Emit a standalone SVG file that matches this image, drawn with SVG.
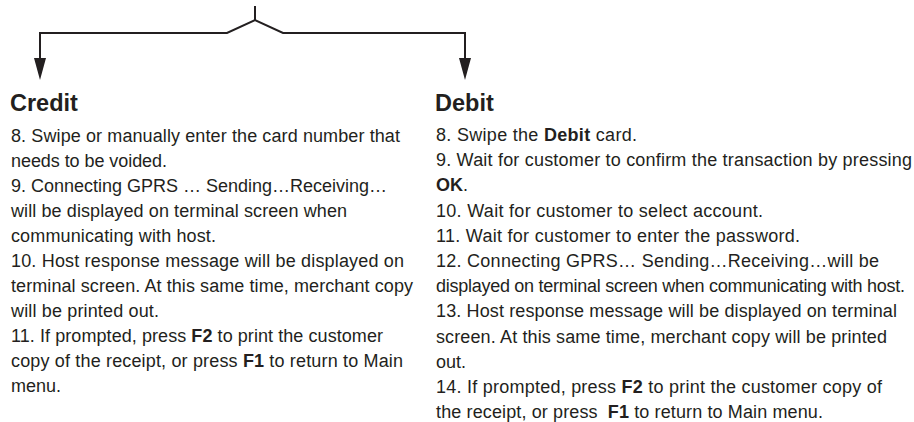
<svg xmlns="http://www.w3.org/2000/svg" width="914" height="422" viewBox="0 0 914 422">
<style>
.t{font-family:"Liberation Sans",Arial,Helvetica,sans-serif;font-size:18px;fill:#231f20}
.h{font-family:"Liberation Sans",Arial,Helvetica,sans-serif;font-size:23.5px;font-weight:bold;fill:#231f20}
.b{font-weight:bold}
.c{fill:none;stroke:#231f20;stroke-width:2}
.a{fill:#231f20}
</style>
<g id="connectors">
<line class="c" x1="255" y1="6" x2="255" y2="21"/>
<polyline class="c" points="40,33 227,33 255,20 283,33 465,33"/>
<line class="c" x1="40" y1="32" x2="40" y2="58"/>
<line class="c" x1="465" y1="32" x2="465" y2="58"/>
<path class="a" d="M34,58 L46,58 L40,80 Z"/>
<path class="a" d="M459,58 L471,58 L465,80 Z"/>
</g>
<g id="credit">
<text class="h" x="10" y="111">Credit</text>
<text class="t" x="11" y="141.5" textLength="389">8. Swipe or manually enter the card number that</text>
<text class="t" x="11" y="166.5" textLength="156">needs to be voided.</text>
<text class="t" x="11" y="191.5" textLength="376">9. Connecting GPRS … Sending…Receiving…</text>
<text class="t" x="11" y="216.5" textLength="336">will be displayed on terminal screen when</text>
<text class="t" x="11" y="241.5" textLength="205">communicating with host.</text>
<text class="t" x="11" y="266.5" textLength="393">10. Host response message will be displayed on</text>
<text class="t" x="11" y="291.5" textLength="402">terminal screen. At this same time, merchant copy</text>
<text class="t" x="11" y="316.5" textLength="148">will be printed out.</text>
<text class="t" x="11" y="341.5" textLength="372">11. If prompted, press <tspan class="b">F2</tspan> to print the customer</text>
<text class="t" x="11" y="366.5" textLength="392">copy of the receipt, or press <tspan class="b">F1</tspan> to return to Main</text>
<text class="t" x="11" y="391.5">menu.</text>
</g>
<g id="debit">
<text class="h" x="435" y="111">Debit</text>
<text class="t" x="436" y="141" textLength="201">8. Swipe the <tspan class="b">Debit</tspan> card.</text>
<text class="t" x="436" y="166.2" textLength="476">9. Wait for customer to confirm the transaction by pressing</text>
<text class="t" x="436" y="191.4"><tspan class="b">OK</tspan>.</text>
<text class="t" x="436" y="216.6" textLength="327">10. Wait for customer to select account.</text>
<text class="t" x="436" y="241.8" textLength="364">11. Wait for customer to enter the password.</text>
<text class="t" x="436" y="267" textLength="443">12. Connecting GPRS… Sending…Receiving…will be</text>
<text class="t" x="436" y="292.2" textLength="469">displayed on terminal screen when communicating with host.</text>
<text class="t" x="436" y="317.4" textLength="461">13. Host response message will be displayed on terminal</text>
<text class="t" x="436" y="342.6" textLength="451">screen. At this same time, merchant copy will be printed</text>
<text class="t" x="436" y="367.8">out.</text>
<text class="t" x="436" y="393" textLength="446">14. If prompted, press <tspan class="b">F2</tspan> to print the customer copy of</text>
<text class="t" x="436" y="417.5" textLength="387">the receipt, or press <tspan class="b" dx="5">F1</tspan> to return to Main menu.</text>
</g>
</svg>
